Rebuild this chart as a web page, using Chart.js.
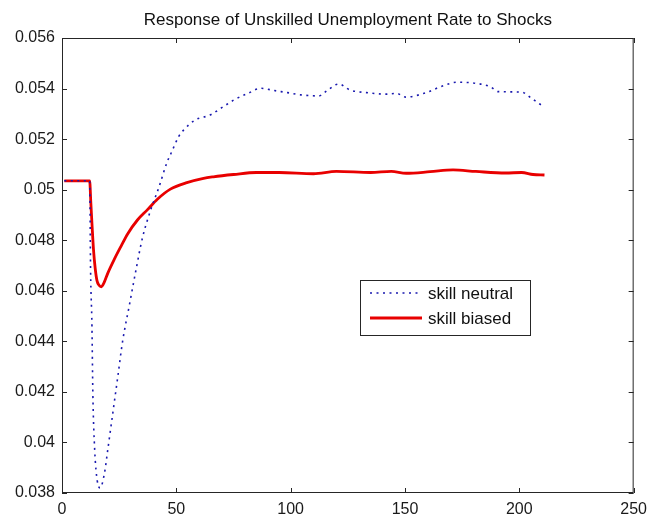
<!DOCTYPE html>
<html>
<head>
<meta charset="utf-8">
<script src="https://cdn.jsdelivr.net/npm/chart.js@4.4.1/dist/chart.umd.min.js"></script>
<style>
  html, body { margin: 0; padding: 0; background: #ffffff; }
  canvas { display: block; }
</style>
</head>
<body>
<canvas id="chart" width="654" height="516"></canvas>
<script>
// Labels and tick values
const titleText = 'Response of Unskilled Unemployment Rate to Shocks';
const seriesNames = ['skill neutral', 'skill biased'];
const xTicks = [0, 50, 100, 150, 200, 250];
const yTicks = [0.038, 0.040, 0.042, 0.044, 0.046, 0.048, 0.050, 0.052, 0.054, 0.056];

// Skill-neutral shock response (period, rate)
const neutralX = [1, 12.1, 12.5, 13.1, 13.5, 14.3, 15.4, 16.7, 18.6, 20.0, 22.2, 24.4, 26.5, 29.4,
  32.3, 35.2, 38.8, 42.4, 46.0, 48.0, 51.0, 53.2, 58.3, 64.7, 70.5, 75.6, 81.3, 87.1, 92.9,
  98.6, 104.4, 112.3, 115.9, 121.0, 126.0, 133.2, 141.9, 146.2, 150.5, 159.2, 166.4, 172.9,
  180.8, 187.3, 190.8, 201.0, 205.3, 208.9, 211];
const neutralY = [0.05035, 0.05035, 0.0468, 0.0446, 0.0419, 0.0397, 0.0385, 0.0382, 0.0388, 0.0397,
  0.04115, 0.0426, 0.0440, 0.0454, 0.0468, 0.0481, 0.0492, 0.0501, 0.0511, 0.0515, 0.0521,
  0.05236, 0.05276, 0.05295, 0.05328, 0.05357, 0.05381, 0.05401, 0.05392, 0.05384, 0.05375,
  0.05371, 0.05392, 0.05418, 0.05394, 0.05384, 0.05378, 0.05381, 0.05366, 0.05384, 0.0541,
  0.05425, 0.05421, 0.05407, 0.05388, 0.05386, 0.05362, 0.05339, 0.0533];

// Skill-biased shock response (period, rate)
const biasedX = [1, 12.1, 12.6, 13.2, 13.8, 14.5, 15.3, 16.2, 17.2, 18.3, 20.0, 22.9, 25.8, 28.7,
  33.0, 37.3, 41.7, 47.4, 54.6, 61.9, 66.2, 75, 85, 95, 110, 120, 135, 144, 150.5, 161, 171,
  181, 194, 201, 206, 211];
const biasedY = [0.05035, 0.05035, 0.0495, 0.0485, 0.0476, 0.0469, 0.0464, 0.04622, 0.04616,
  0.0463, 0.04669, 0.04725, 0.04776, 0.04825, 0.0488, 0.0492, 0.04962, 0.05002, 0.05028,
  0.05045, 0.05051, 0.0506, 0.05068, 0.05068, 0.05063, 0.05072, 0.05068, 0.05072, 0.05065,
  0.05071, 0.05078, 0.05072, 0.05066, 0.05068, 0.0506, 0.05058];

const FONT = '"Liberation Sans", Arial, Helvetica, sans-serif';
const INK = '#262626';

const toPoints = (xs, ys) => xs.map((x, i) => ({ x, y: ys[i] }));

// Axes box with inward tick marks on all four sides
const framePlugin = {
  id: 'frame',
  afterDatasetsDraw(chart) {
    const { ctx, chartArea: a, scales: { x, y } } = chart;
    const len = 5;
    ctx.save();
    ctx.strokeStyle = INK;
    ctx.lineWidth = 1;
    ctx.strokeRect(a.left + 0.5, a.top + 0.5, a.right - a.left - 1, a.bottom - a.top - 1);
    ctx.beginPath();
    x.ticks.forEach(t => {
      const px = Math.round(x.getPixelForValue(t.value)) + 0.5;
      ctx.moveTo(px, a.bottom); ctx.lineTo(px, a.bottom - len);
      ctx.moveTo(px, a.top); ctx.lineTo(px, a.top + len);
    });
    y.ticks.forEach(t => {
      const py = Math.round(y.getPixelForValue(t.value)) + 0.5;
      ctx.moveTo(a.left, py); ctx.lineTo(a.left + len, py);
      ctx.moveTo(a.right, py); ctx.lineTo(a.right - len, py);
    });
    ctx.stroke();
    ctx.restore();
  }
};

// Title centred over the plotting area
const titlePlugin = {
  id: 'plotTitle',
  afterDraw(chart) {
    const { ctx, chartArea: a } = chart;
    ctx.save();
    ctx.font = '17px ' + FONT;
    ctx.fillStyle = '#111';
    ctx.textAlign = 'center';
    ctx.textBaseline = 'alphabetic';
    ctx.fillText(titleText, (a.left + a.right) / 2, 25);
    ctx.restore();
  }
};

// Boxed legend inside the plotting area
const legendPlugin = {
  id: 'boxLegend',
  afterDraw(chart) {
    const { ctx, chartArea: a } = chart;
    const bx = a.left + 298, by = a.top + 242, bw = 170, bh = 55;
    ctx.save();
    ctx.fillStyle = '#ffffff';
    ctx.fillRect(bx, by, bw, bh);
    ctx.strokeStyle = INK;
    ctx.lineWidth = 1;
    ctx.strokeRect(bx + 0.5, by + 0.5, bw, bh);
    chart.data.datasets.forEach((ds, i) => {
      const ly = by + 13 + i * 25;
      ctx.beginPath();
      ctx.strokeStyle = ds.borderColor;
      ctx.lineWidth = ds.borderWidth;
      ctx.setLineDash(ds.borderDash || []);
      ctx.moveTo(bx + 10, ly);
      ctx.lineTo(bx + 62, ly);
      ctx.stroke();
      ctx.setLineDash([]);
      ctx.font = '17px ' + FONT;
      ctx.fillStyle = '#111';
      ctx.textAlign = 'left';
      ctx.textBaseline = 'middle';
      ctx.fillText(ds.label, bx + 68, ly + 1);
    });
    ctx.restore();
  }
};

const tickFont = { family: FONT, size: 16 };

new Chart(document.getElementById('chart'), {
  type: 'scatter',
  data: {
    datasets: [
      {
        label: seriesNames[0],
        data: toPoints(neutralX, neutralY),
        showLine: true,
        borderColor: 'rgb(25, 25, 175)',
        borderWidth: 1.6,
        borderDash: [2, 4.5],
        pointRadius: 0,
        cubicInterpolationMode: 'monotone'
      },
      {
        label: seriesNames[1],
        data: toPoints(biasedX, biasedY),
        showLine: true,
        borderColor: 'rgb(232, 0, 0)',
        borderWidth: 2.8,
        pointRadius: 0,
        cubicInterpolationMode: 'monotone'
      }
    ]
  },
  options: {
    responsive: false,
    animation: false,
    devicePixelRatio: 1,
    layout: { padding: { top: 38, right: 14, left: 0, bottom: 0 } },
    plugins: {
      legend: { display: false },
      tooltip: { enabled: false },
      title: { display: false }
    },
    scales: {
      x: {
        type: 'linear',
        min: 0,
        max: 250,
        afterBuildTicks: s => { s.ticks = xTicks.map(v => ({ value: v })); },
        afterFit: s => { s.height = 23; },
        grid: { display: false, drawTicks: false },
        border: { display: false },
        ticks: {
          font: tickFont,
          color: '#1a1a1a',
          padding: 7,
          maxRotation: 0,
          callback: v => String(v)
        }
      },
      y: {
        type: 'linear',
        min: 0.038,
        max: 0.056,
        afterBuildTicks: s => { s.ticks = yTicks.map(v => ({ value: v })); },
        afterFit: s => { s.width = 62; },
        grid: { display: false, drawTicks: false },
        border: { display: false },
        ticks: {
          font: tickFont,
          color: '#1a1a1a',
          padding: 7,
          callback: v => String(parseFloat(Number(v).toFixed(3)))
        }
      }
    }
  },
  plugins: [framePlugin, titlePlugin, legendPlugin]
});
</script>
</body>
</html>
